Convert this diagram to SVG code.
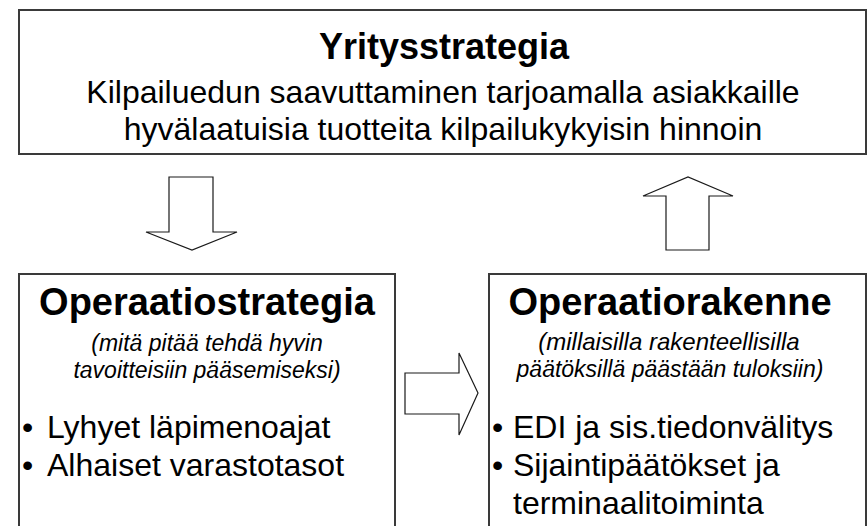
<svg xmlns="http://www.w3.org/2000/svg" width="868" height="526" viewBox="0 0 868 526">
  <style>
    .box { fill: #ffffff; stroke: #3a3a3a; stroke-width: 2; }
    .arrow { fill: #ffffff; stroke: #1a1a1a; stroke-width: 1.2; stroke-linejoin: miter; }
    text { font-family: "Liberation Sans", Arial, sans-serif; fill: #000000; }
    .h1 { font-size: 36px; font-weight: bold; text-anchor: middle; }
    .h2 { font-size: 38px; font-weight: bold; text-anchor: middle; }
    .body { font-size: 32px; text-anchor: middle; }
    .note { font-size: 23px; font-style: italic; text-anchor: middle; }
    .note-wide { font-size: 24px; }
    .item { font-size: 32px; }
  </style>
  <rect width="868" height="526" fill="#ffffff"/>

  <g id="connectors">
    <!-- down: strategy to operations strategy -->
    <polygon class="arrow" points="169,177 213,177 213,232 237,232 192,250 146,232 169,232"/>
    <!-- right: operations strategy to operations structure -->
    <polygon class="arrow" points="405,373 459,373 459,353 478,393 459,435 459,414 405,414"/>
    <!-- up: operations structure back to strategy -->
    <polygon class="arrow" points="666,250 709,250 709,196 733,196 688,177 643,196 666,196"/>
  </g>

  <g id="yritysstrategia">
    <rect class="box" x="19" y="10" width="847" height="144"/>
    <text class="h1" x="444" y="59">Yritysstrategia</text>
    <text class="body" x="443" y="103">Kilpailuedun saavuttaminen tarjoamalla asiakkaille</text>
    <text class="body" x="443" y="140">hyvälaatuisia tuotteita kilpailukykyisin hinnoin</text>
  </g>

  <g id="operaatiostrategia">
    <rect class="box" x="19" y="274" width="376" height="262"/>
    <text class="h2" x="207" y="315">Operaatiostrategia</text>
    <text class="note" x="207" y="351">(mitä pitää tehdä hyvin</text>
    <text class="note" x="207" y="378">tavoitteisiin pääsemiseksi)</text>
    <text class="item" y="438"><tspan x="22">•</tspan><tspan x="47">Lyhyet läpimenoajat</tspan></text>
    <text class="item" y="476"><tspan x="22">•</tspan><tspan x="47">Alhaiset varastotasot</tspan></text>
  </g>

  <g id="operaatiorakenne">
    <rect class="box" x="489" y="274" width="377" height="262"/>
    <text class="h2" x="670" y="315">Operaatiorakenne</text>
    <text class="note note-wide" x="669" y="350">(millaisilla rakenteellisilla</text>
    <text class="note" x="670" y="377"> päätöksillä päästään tuloksiin)</text>
    <text class="item" y="438"><tspan x="492">•</tspan><tspan x="513">EDI ja sis.tiedonvälitys</tspan></text>
    <text class="item" y="476"><tspan x="492">•</tspan><tspan x="513">Sijaintipäätökset ja</tspan></text>
    <text class="item" y="514"><tspan x="513">terminaalitoiminta</tspan></text>
  </g>
</svg>
